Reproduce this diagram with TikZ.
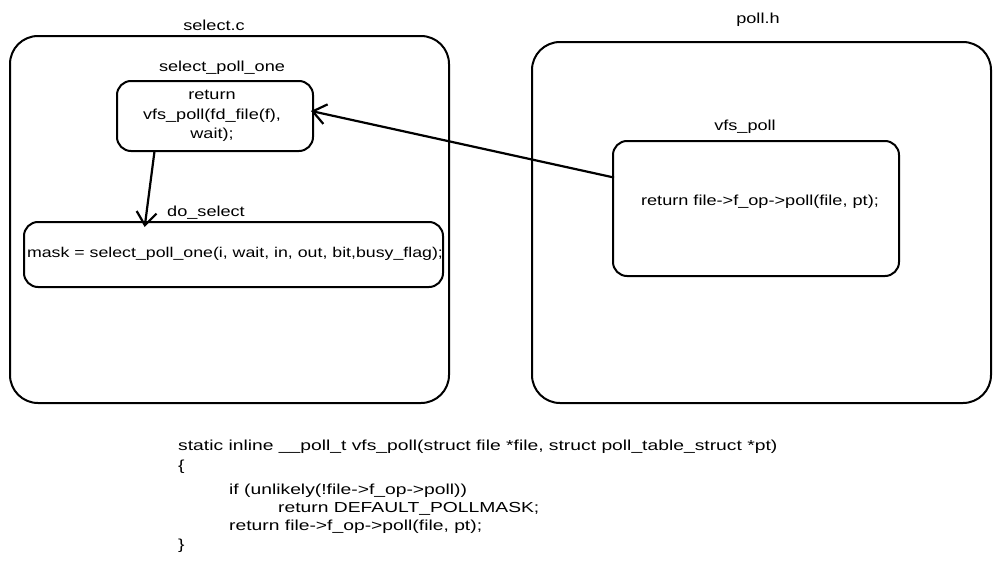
\documentclass[tikz,border=0pt]{standalone}
\usepackage{fontspec}
\setmainfont{Liberation Sans}
\newfontfamily\vfont[FakeStretch=1.25]{Liberation Sans}
\newfontfamily\cfont[FakeStretch=1.33]{Liberation Sans}
\usetikzlibrary{arrows.meta,calc}
\begin{document}
\begin{tikzpicture}[x=1pt,y=-1pt,
  box/.style={draw=black,line width=2pt,rounded corners=#1,inner sep=0pt},
  box/.default=14pt,
  lbl/.style={font=\vfont\fontsize{14.5}{17}\selectfont,inner sep=0pt},
  code/.style={font=\cfont\fontsize{14.5}{17}\selectfont,inner sep=0pt,anchor=west},
  arr/.style={line width=2.2pt,-{Straight Barb[length=13pt,width=20pt,line width=2.2pt]}}]
\useasboundingbox[fill=white] (0,0) rectangle (1001,570);
% outer boxes
\node[box=28pt,minimum width=439pt,minimum height=367pt] (selc) at (229.5,219.5) {};
\node[box=28pt,minimum width=459pt,minimum height=361pt] (pollh) at (761.5,222.5) {};
\node[lbl] (selcl) at (214,25) {select.c};
\node[lbl] (pollhl) at (758,20) {poll.h};
% select_poll_one
\node[lbl] (spol) at (222,68) {select\_poll\_one};
\node[box,minimum width=196pt,minimum height=70pt] (spo) at (215,116) {};
\node[lbl,align=center,font=\vfont\fontsize{14.5}{19.5}\selectfont] (spot) at (212,116) {return\\vfs\_poll(fd\_file(f),\\wait);};
% do_select
\node[lbl] (dsl) at (206,213) {do\_select};
\node[box,minimum width=419pt,minimum height=65pt] (ds) at (233.5,254.5) {};
\node[lbl,font=\vfont\fontsize{14.2}{17}\selectfont] (dst) at (235,254) {mask = select\_poll\_one(i, wait, in, out, bit,busy\_flag);};
% vfs_poll
\node[lbl] (vfsl) at (745,127) {vfs\_poll};
\node[box,minimum width=286pt,minimum height=135pt] (vfs) at (756,208.5) {};
\node[lbl] (vfst) at (760,202) {return file->f\_op->poll(file, pt);};
% arrows
\draw[arr] ($(spo.south west)!0.194!(spo.south east)$) -- ($(ds.north west)!0.289!(ds.north east)+(0,6)$);
\draw[arr] ($(vfs.north west)!0.274!(vfs.south west)+(2,0)$) -- ($(spo.north east)!0.43!(spo.south east)+(-3,0)$);
% code
\node[code] (c1) at (178,447) {static inline \_\_poll\_t vfs\_poll(struct file *file, struct poll\_table\_struct *pt)};
\node[code] (c2) at (178,467) {\{};
\node[code] (c3) at (229,491) {if (unlikely(!file->f\_op->poll))};
\node[code] (c4) at (278,509) {return DEFAULT\_POLLMASK;};
\node[code] (c5) at (229,527) {return file->f\_op->poll(file, pt);};
\node[code] (c6) at (178,546) {\}};
\end{tikzpicture}
\end{document}
